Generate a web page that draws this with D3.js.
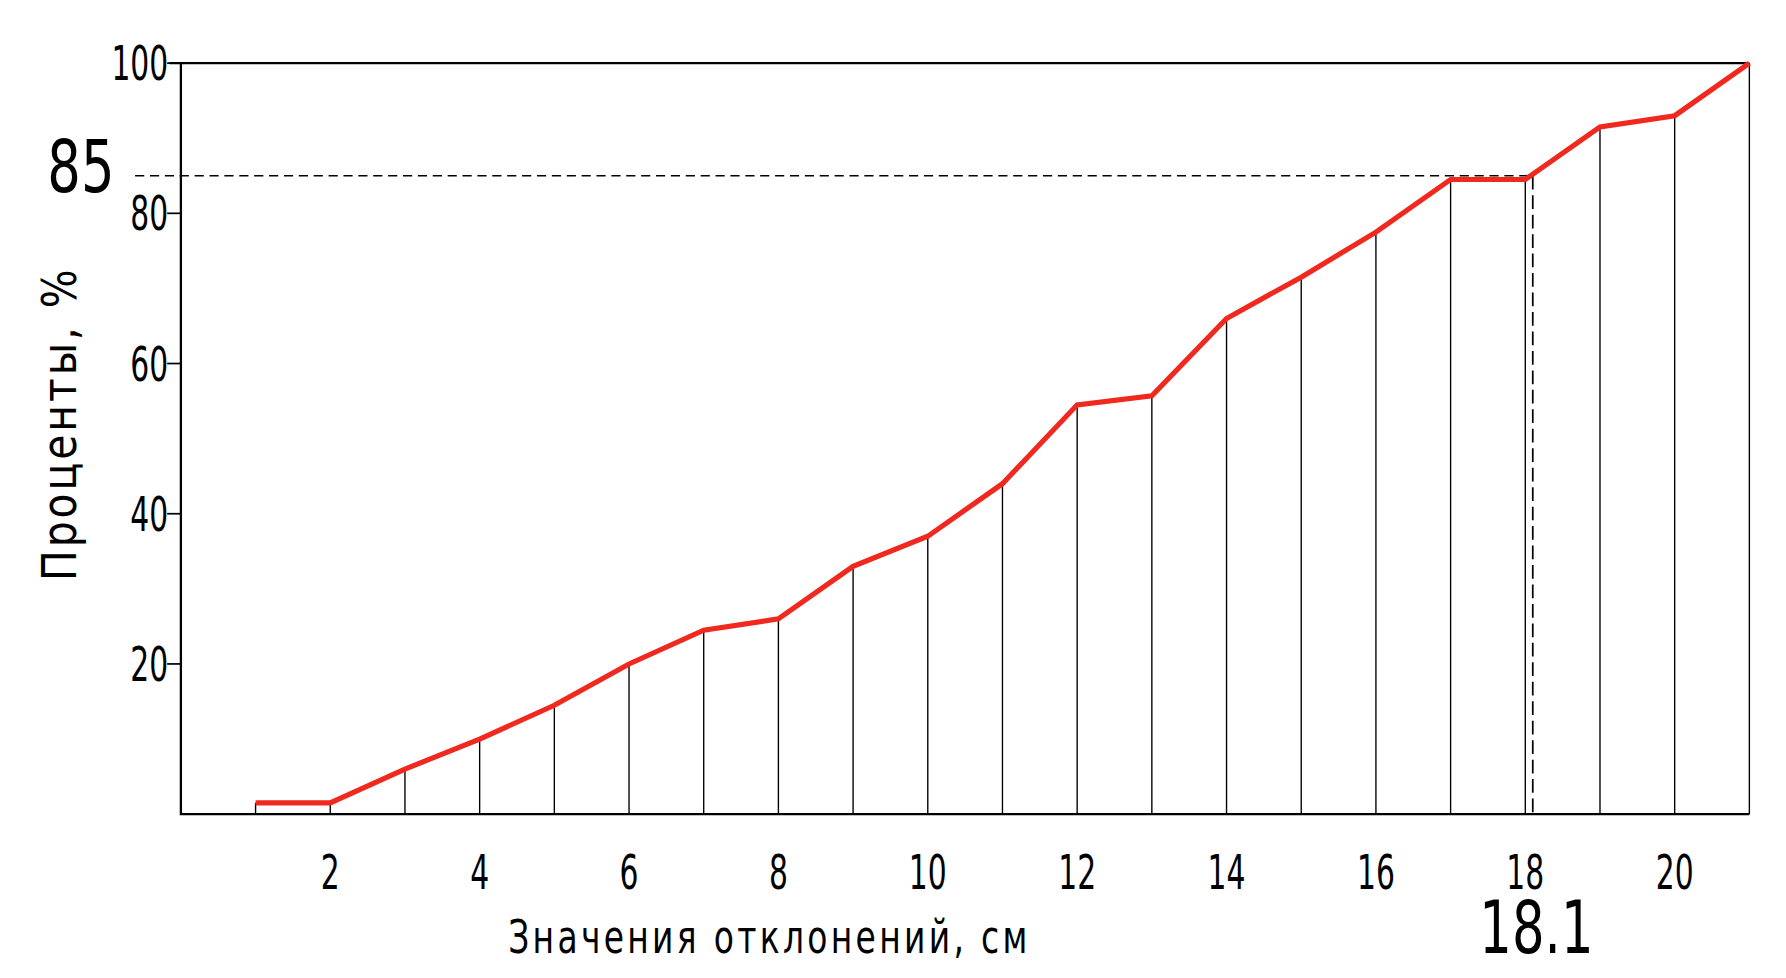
<!DOCTYPE html>
<html>
<head>
<meta charset="utf-8">
<script src="https://cdn.jsdelivr.net/npm/d3@7"></script>
<style>body{margin:0;background:#fff}text{font-family:"DejaVu Sans",sans-serif}</style>
</head>
<body>
<script>
var xs = [1,2,3,4,5,6,7,8,9,10,11,12,13,14,15,16,17,18,19,20,21];
var percents = [1.5,1.5,6,10,14.5,20,24.5,26,33,37,44,54.5,55.7,66,71.5,77.5,84.5,84.5,91.5,93,100];
var xTicks = [2,4,6,8,10,12,14,16,18,20];
var yTicks = [20,40,60,80,100];
var markX = 18.1, markY = 85;

var svg = d3.select("body").append("svg")
    .attr("width", 1786).attr("height", 978)
    .attr("viewBox", "0 0 1560 854");

var x = d3.scaleLinear().domain([0, 21]).range([158, 1528]);
var y = d3.scaleLinear().domain([0, 100]).range([711, 55]);

// condensed text: place at (px,py), squeeze horizontally
function label(px, py, size, anchor, str, sx, rot) {
    return svg.append("text")
        .attr("transform", "translate(" + px + "," + py + ")" + (rot ? " rotate(" + rot + ")" : "") + " scale(" + sx + ",1)")
        .attr("text-anchor", anchor).attr("font-size", size).text(str);
}

svg.append("path").attr("d", "M158,55V711H1528").attr("stroke", "#000").attr("stroke-width", 2).attr("fill", "none");
svg.append("line").attr("x1", 148).attr("x2", 1528).attr("y1", y(100)).attr("y2", y(100)).attr("stroke", "#000").attr("stroke-width", 2);

svg.selectAll(".drop").data(xs).enter().append("line")
    .attr("x1", function (d) { return x(d); }).attr("x2", function (d) { return x(d); })
    .attr("y1", function (d, i) { return y(percents[i]); }).attr("y2", y(0))
    .attr("stroke", "#000").attr("stroke-width", 1.2);

svg.selectAll(".yt").data(yTicks).enter().append("line")
    .attr("x1", 146).attr("x2", 158).attr("y1", y).attr("y2", y)
    .attr("stroke", "#000").attr("stroke-width", 1.5);
yTicks.forEach(function (d) { label(147, y(d) + 15, 42, "end", d, 0.62); });
xTicks.forEach(function (d) { label(x(d), 776, 42, "middle", d, 0.62); });

svg.append("line").attr("x1", 118).attr("x2", x(markX)).attr("y1", y(markY)).attr("y2", y(markY))
    .attr("stroke", "#000").attr("stroke-width", 1.5).attr("stroke-dasharray", "8,5");
svg.append("line").attr("x1", x(markX)).attr("x2", x(markX)).attr("y1", y(markY)).attr("y2", y(0))
    .attr("stroke", "#000").attr("stroke-width", 1.5).attr("stroke-dasharray", "12,5");

var line = d3.line().x(function (d) { return x(d); }).y(function (d, i) { return y(percents[i]); });
svg.append("path").datum(xs).attr("d", line)
    .attr("fill", "none").attr("stroke", "#f0281e").attr("stroke-width", 4.5);

label(100, 168, 64, "end", "85", 0.72);
label(1342, 832, 64, "middle", "18.1", 0.7);
label(672, 832, 40, "middle", "Значения отклонений, см", 0.72).attr("letter-spacing", 4);
label(66, 370, 42, "middle", "Проценты, %", 0.85, -90).attr("letter-spacing", 3);
</script>
</body>
</html>
